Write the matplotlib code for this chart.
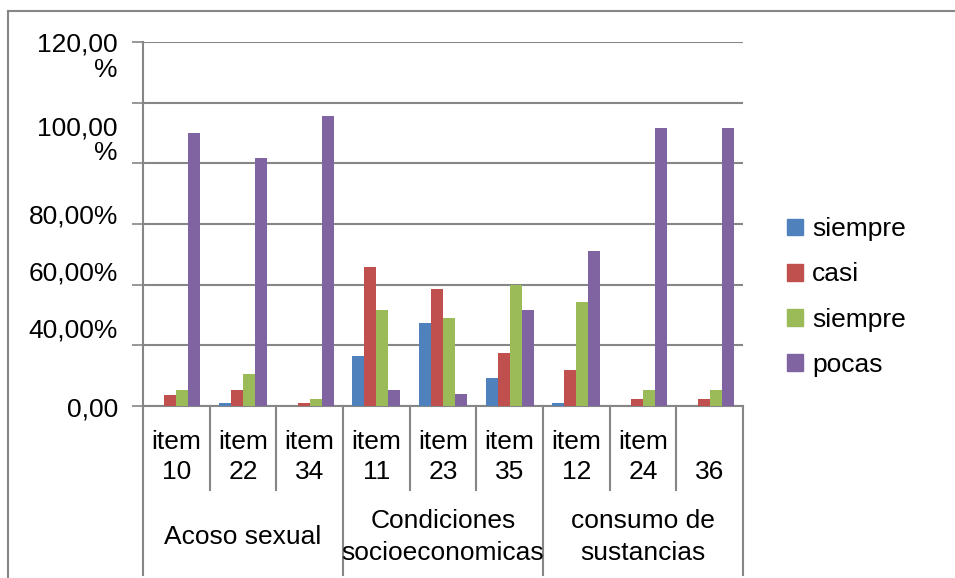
import numpy as np
import matplotlib
matplotlib.use("Agg")
import matplotlib.pyplot as plt
import matplotlib.transforms as mtransforms
from matplotlib.patches import Patch

plt.rcParams['font.family'] = ['Liberation Sans', 'DejaVu Sans']

# datos (porcentajes)
items = ["item\n10", "item\n22", "item\n34", "item\n11", "item\n23", "item\n35",
         "item\n12", "item\n24", "\n36"]
grupos = ["Acoso sexual", "Condiciones\nsocioeconomicas", "consumo de\nsustancias"]
series = ["siempre", "casi", "siempre", "pocas"]
siempre_a = [0.0, 1.1, 0.0, 16.4, 27.5, 9.3, 1.1, 0.0, 0.0]
casi = [3.7, 5.4, 1.1, 45.7, 38.7, 17.6, 12.0, 2.4, 2.4]
siempre_b = [5.4, 10.7, 2.4, 31.6, 29.0, 40.0, 34.4, 5.4, 5.4]
pocas = [90.1, 81.9, 95.7, 5.3, 4.0, 31.6, 51.2, 91.8, 91.8]

# etiquetas del eje y tal como aparecen (desplazadas en el original)
ylab_text = ["120,00\n%", "100,00\n%", "80,00%", "60,00%", "40,00%", "0,00"]
ylab_pos = [115.0, 87.4, 62.6, 43.8, 25.0, -1.0]

colores = ["#4F81BD", "#C0504D", "#9BBB59", "#8064A2"]
gris = "#868686"

fig = plt.figure(figsize=(9.55, 5.78), dpi=100)
ax = fig.add_axes([143 / 955, 1 - 406 / 578, 600 / 955, 364 / 578])

x = np.arange(len(items))
w = 0.18
valores = [siempre_a, casi, siempre_b, pocas]
for i, (vals, c) in enumerate(zip(valores, colores)):
    ax.bar(x + (i - 1.5) * w, vals, width=w, color=c, zorder=3)

ax.set_xlim(-0.5, len(items) - 0.5)
ax.set_ylim(0, 120)
ax.set_yticks(np.arange(0, 121, 20))
ax.set_yticklabels([])
ax.tick_params(axis='y', length=8, color=gris, width=1.2)
ax.set_xticks([])
ax.grid(axis='y', color=gris, linewidth=1.5, zorder=0)
for s in ["top", "right"]:
    ax.spines[s].set_visible(False)
for s in ["left", "bottom"]:
    ax.spines[s].set_color(gris)
    ax.spines[s].set_linewidth(1.5)

fs = 19
trans_y = mtransforms.blended_transform_factory(ax.transAxes, ax.transData)
for t, p in zip(ylab_text, ylab_pos):
    ax.text(-0.042, p, t, transform=trans_y, ha='right', va='center',
            multialignment='right', fontsize=fs, linespacing=1.05)

# separadores y etiquetas de categorias
trans_x = mtransforms.blended_transform_factory(ax.transData, ax.transAxes)
for k in range(len(items) + 1):
    bajo = -0.464 if k % 3 == 0 else -0.231
    ax.plot([k - 0.5, k - 0.5], [0, bajo], transform=trans_x, color=gris,
            linewidth=1.5, clip_on=False)
for k, t in enumerate(items):
    ax.text(k, -0.14, t, transform=trans_x, ha='center', va='center',
            fontsize=fs, linespacing=1.35)
for g, t in enumerate(grupos):
    ax.text(3 * g + 1, -0.36, t, transform=trans_x, ha='center', va='center',
            fontsize=fs, linespacing=1.4)

# marco exterior
fig.add_artist(plt.Line2D([8 / 955, 8 / 955], [0, 1 - 11 / 578], color=gris, linewidth=1.5))
fig.add_artist(plt.Line2D([8 / 955, 1], [1 - 11 / 578, 1 - 11 / 578], color=gris, linewidth=1.5))

handles = [Patch(color=c) for c in colores]
fig.legend(handles, series, loc='center left', bbox_to_anchor=(774 / 955, 1 - 297 / 578),
           frameon=False, fontsize=fs, handlelength=0.6, handleheight=0.6,
           handletextpad=0.35, labelspacing=0.8, borderpad=0)

fig.savefig("out.png", dpi=100)
